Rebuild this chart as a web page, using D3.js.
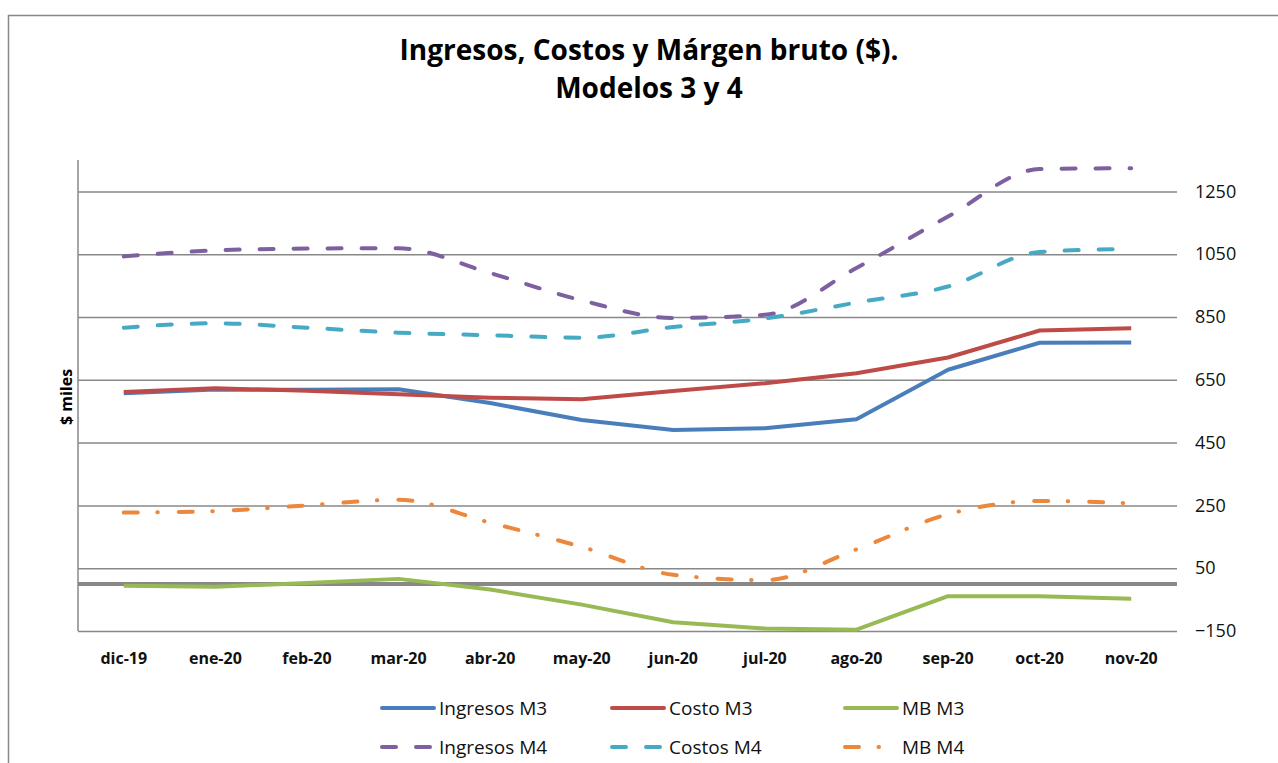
<!DOCTYPE html>
<html>
<head>
<meta charset="utf-8">
<script src="https://cdn.jsdelivr.net/npm/d3@7"></script>
<style>
  body { margin: 0; background: #fff; }
  svg { display: block; font-family: "Open Sans", Lato, sans-serif; }
</style>
</head>
<body>
<div class="chart"></div>
<script>
(() => {
var months = ['dic-19', 'ene-20', 'feb-20', 'mar-20', 'abr-20', 'may-20',
              'jun-20', 'jul-20', 'ago-20', 'sep-20', 'oct-20', 'nov-20'];

var ingresosM3 = [607, 619, 618, 620, 576, 522, 490, 496, 524, 682, 768, 769];
var costoM3    = [611, 623, 615, 604, 593, 588, 614, 639, 671, 721, 807, 814];
var mbM3       = [-6, -9, 3, 16, -18, -66, -122, -142, -146, -39, -39, -47];
var ingresosM4 = [1043, 1062, 1068, 1069, 990, 903, 847, 857, 1006, 1170, 1321, 1324];
var costosM4   = [816, 830, 816, 800, 792, 784, 818, 845, 896, 947, 1057, 1067];
var mbM4       = [227, 232, 250, 268, 195, 118, 29, 12, 110, 222, 264, 257];

var yTicks = [-150, 50, 250, 450, 650, 850, 1050, 1250];

var width = 1278,
    height = 763,
    plot = {left: 78, right: 1177, top: 160, bottom: 631};

var series = [
    {name: 'Ingresos M3', values: ingresosM3, color: '#4a7ebb', dash: null, curve: d3.curveLinear},
    {name: 'Costo M3', values: costoM3, color: '#be4b48', dash: null, curve: d3.curveLinear},
    {name: 'MB M3', values: mbM3, color: '#98b954', dash: null, curve: d3.curveLinear},
    {name: 'Ingresos M4', values: ingresosM4, color: '#7d60a0', dash: '14,20', curve: d3.curveMonotoneX},
    {name: 'Costos M4', values: costosM4, color: '#46aac5', dash: '14,20', curve: d3.curveMonotoneX},
    {name: 'MB M4', values: mbM4, color: '#ec873c', dash: '14,19.5,0.5,21', curve: d3.curveMonotoneX}
];

var svg = d3.select('div.chart')
    .append('svg')
        .attr('width', width)
        .attr('height', height);

// chart frame
svg.append('rect')
    .attr('x', 8.5)
    .attr('y', 15.5)
    .attr('width', 1300)
    .attr('height', 800)
    .style('fill', 'none')
    .style('stroke', '#888')
    .style('stroke-width', 1.5);

// title
svg.append('text')
    .attr('x', 649)
    .attr('y', 60)
    .attr('text-anchor', 'middle')
    .style('font-size', '28px')
    .style('font-weight', 'bold')
    .text('Ingresos, Costos y Márgen bruto ($).');
svg.append('text')
    .attr('x', 649)
    .attr('y', 98)
    .attr('text-anchor', 'middle')
    .style('font-size', '28px')
    .style('font-weight', 'bold')
    .text('Modelos 3 y 4');

var x = d3.scaleBand()
    .domain(months)
    .range([plot.left, plot.right]);

var y = d3.scaleLinear()
    .domain([-150, 1350])
    .range([plot.bottom, plot.top]);

var cx = (m) => x(m) + x.bandwidth() / 2;

// gridlines + right axis labels
var yAxis = svg.append('g')
    .attr('transform', 'translate(' + plot.right + ',0)')
    .call(d3.axisRight(y).tickValues(yTicks).tickFormat(d3.format('d'))
        .tickSize(-(plot.right - plot.left)).tickPadding(18));
yAxis.select('.domain').remove();
yAxis.selectAll('.tick line')
    .style('stroke', '#888')
    .style('stroke-width', 1.5);
yAxis.selectAll('.tick text')
    .style('font-family', '"Open Sans", sans-serif')
    .style('font-size', '18px')
    .style('fill', '#111');

// left axis line
svg.append('line')
    .attr('x1', plot.left).attr('x2', plot.left)
    .attr('y1', plot.top).attr('y2', plot.bottom)
    .style('stroke', '#888')
    .style('stroke-width', 1.5);

// category labels
var xAxis = svg.append('g')
    .attr('transform', 'translate(0,' + plot.bottom + ')')
    .call(d3.axisBottom(x).tickSize(0).tickPadding(22));
xAxis.select('.domain').remove();
xAxis.selectAll('.tick text')
    .style('font-family', '"Open Sans", sans-serif')
    .style('font-size', '16px')
    .style('font-weight', 'bold')
    .style('fill', '#111');

// zero line
svg.append('line')
    .attr('x1', plot.left).attr('x2', plot.right)
    .attr('y1', y(0)).attr('y2', y(0))
    .style('stroke', '#888')
    .style('stroke-width', 4);

// y title
svg.append('text')
    .attr('transform', 'translate(72,397) rotate(-90)')
    .attr('text-anchor', 'middle')
    .style('font-size', '16px')
    .style('font-weight', 'bold')
    .text('$ miles');

// lines
series.forEach((s) => {
    var line = d3.line()
        .x((d, i) => cx(months[i]))
        .y((d) => y(d))
        .curve(s.curve);
    svg.append('path')
        .datum(s.values)
        .attr('d', line)
        .style('fill', 'none')
        .style('stroke', s.color)
        .style('stroke-width', 4)
        .style('stroke-linecap', s.dash ? 'round' : 'butt')
        .style('stroke-linejoin', 'round')
        .style('stroke-dasharray', s.dash);
});

// legend
var legendCols = [382, 612, 845],
    legendRows = [708, 747];

var legend = svg.selectAll('g.legend')
    .data(series)
    .enter()
    .append('g')
        .attr('class', 'legend')
        .attr('transform', (d, i) => 'translate(' + legendCols[i % 3] + ',' + legendRows[Math.floor(i / 3)] + ')');

legend.append('line')
    .attr('x1', 0).attr('x2', 52)
    .attr('y1', 0).attr('y2', 0)
    .style('stroke', (d) => d.color)
    .style('stroke-width', 4)
    .style('stroke-linecap', 'round')
    .style('stroke-dasharray', (d) => d.dash);

legend.append('text')
    .attr('x', 57)
    .attr('y', 7)
    .style('font-size', '19px')
    .style('fill', '#111')
    .text((d) => d.name);
})();
</script>
</body>
</html>
